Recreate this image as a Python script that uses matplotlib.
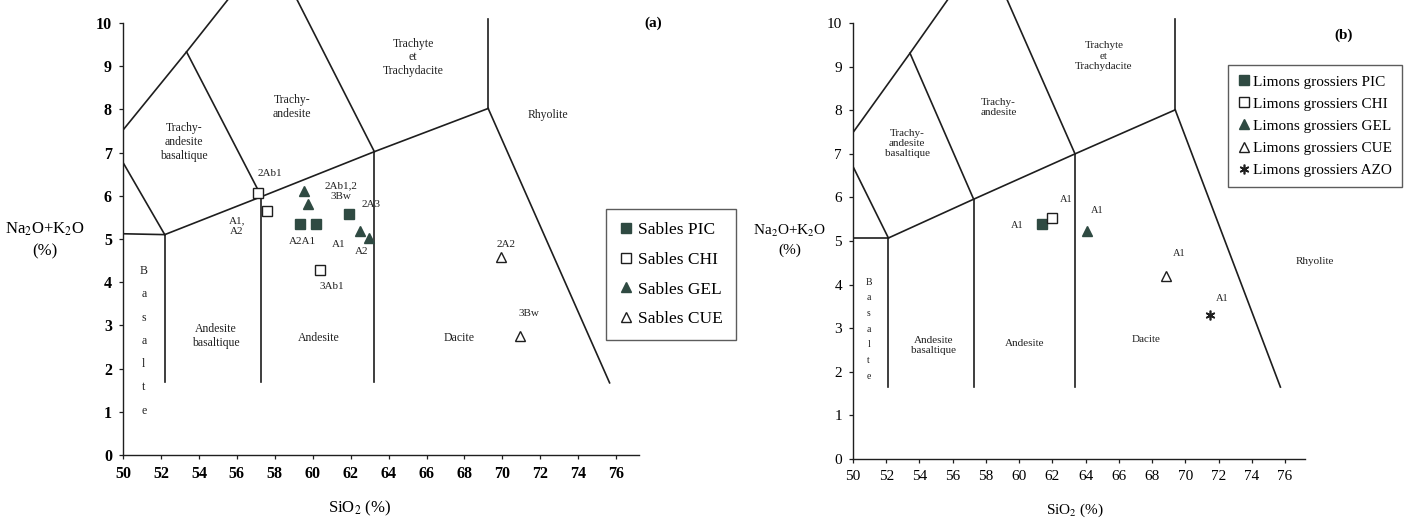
import matplotlib
matplotlib.use("Agg")
import matplotlib.pyplot as plt

plt.rcParams['font.family'] = 'serif'
plt.rcParams['font.serif'] = ['Liberation Serif', 'DejaVu Serif']
plt.rcParams['mathtext.fontset'] = 'stix'

LINE_COL = '#1e1e1e'
FILL_COL = '#2f4a42'

# ---- panel (a) data : sables ----
pic_a_x = [59.35, 60.15, 61.9]
pic_a_y = [5.35, 5.35, 5.58]
chi_a_x = [57.1, 57.6, 60.4]
chi_a_y = [6.06, 5.65, 4.28]
gel_a_x = [59.55, 59.75, 62.5, 62.95]
gel_a_y = [6.1, 5.82, 5.19, 5.02]
cue_a_x = [69.95, 70.95]
cue_a_y = [4.58, 2.75]

labels_a = ["2Ab1", "A1,\nA2", "3Ab1", "A2A1", "A1", "2Ab1,2\n3Bw", "2A3", "A2", "2A2", "3Bw"]
labels_a_x = [57.75, 56.0, 61.0, 59.45, 61.35, 61.5, 63.1, 62.6, 70.2, 71.4]
labels_a_y = [6.52, 5.3, 3.9, 4.93, 4.87, 6.1, 5.8, 4.72, 4.88, 3.28]

# ---- panel (b) data : limons grossiers ----
pic_b_x = [61.35]
pic_b_y = [5.39]
chi_b_x = [61.99]
chi_b_y = [5.54]
gel_b_x = [64.07]
gel_b_y = [5.24]
cue_b_x = [68.84]
cue_b_y = [4.2]
azo_b_x = [71.51]
azo_b_y = [3.31]

labels_b = ["A1", "A1", "A1", "A1", "A1"]
labels_b_x = [59.9, 62.8, 64.7, 69.6, 72.2]
labels_b_y = [5.35, 5.95, 5.7, 4.72, 3.69]

# ---- TAS field boundaries (SiO2, Na2O+K2O) ----
tas_a = [
    [(50, 7.52), (53.35, 9.33), (56.0, 10.8)],
    [(53.35, 9.33), (57.3, 5.98)],
    [(50, 6.77), (52.2, 5.1)],
    [(50, 5.12), (52.2, 5.1)],
    [(52.2, 5.1), (57.3, 5.98), (63.25, 7.02), (69.25, 8.02)],
    [(63.25, 7.02), (59.1, 10.6)],
    [(69.25, 8.02), (69.25, 10.1)],
    [(69.25, 8.02), (75.65, 1.67)],
    [(52.2, 1.7), (52.2, 5.1)],
    [(57.3, 1.7), (57.3, 5.98)],
    [(63.25, 1.7), (63.25, 7.02)],
]
tas_b = [
    [(50, 7.49), (53.43, 9.31), (56.0, 10.7)],
    [(53.43, 9.31), (57.26, 5.96)],
    [(50, 6.71), (52.13, 5.07)],
    [(50, 5.07), (52.13, 5.07)],
    [(52.13, 5.07), (57.26, 5.96), (63.36, 7.0), (69.39, 8.01)],
    [(63.36, 7.0), (59.2, 10.6)],
    [(69.39, 8.01), (69.39, 10.1)],
    [(69.39, 8.01), (75.72, 1.65)],
    [(52.13, 1.65), (52.13, 5.07)],
    [(57.26, 1.65), (57.26, 5.96)],
    [(63.36, 1.65), (63.36, 7.0)],
]

fields = ["Trachyte\net\nTrachydacite", "Trachy-\nandesite", "Trachy-\nandesite\nbasaltique",
          "Rhyolite", "Andesite\nbasaltique", "Andesite", "Dacite"]
fields_a_x = [65.3, 58.9, 53.2, 72.4, 54.9, 60.3, 67.7]
fields_a_y = [9.2, 8.05, 7.24, 7.87, 2.75, 2.7, 2.7]
fields_b_x = [65.1, 58.75, 53.26, 77.8, 54.85, 60.35, 67.66]
fields_b_y = [9.24, 8.07, 7.24, 4.52, 2.6, 2.66, 2.74]

W, H = 1413, 518
fig = plt.figure(figsize=(W / 100, H / 100), dpi=100)
fig.patch.set_facecolor('white')

ax_a = fig.add_axes([123 / W, (H - 455) / H, 516 / W, 455 / H])
ax_b = fig.add_axes([853 / W, (H - 459) / H, 452 / W, 459 / H])


def setup_axis(ax, tas, fsize):
    ax.set_xlim(50, 77.2)
    ax.set_ylim(0, 10.53)
    ax.spines['top'].set_visible(False)
    ax.spines['right'].set_visible(False)
    ax.spines['left'].set_bounds(0, 10)
    for s in ['left', 'bottom']:
        ax.spines[s].set_color(LINE_COL)
        ax.spines[s].set_linewidth(1.0)
    ax.set_xticks(range(50, 77, 2))
    ax.set_yticks(range(0, 11))
    ax.tick_params(direction='out', length=3, width=0.9, color=LINE_COL,
                   labelsize=fsize, pad=5)
    for seg in tas:
        xs = [p[0] for p in seg]
        ys = [p[1] for p in seg]
        ax.plot(xs, ys, color=LINE_COL, linewidth=1.2, zorder=1)
    ax.patch.set_alpha(0)


setup_axis(ax_a, tas_a, 11.5)
setup_axis(ax_b, tas_b, 11)
for lab in ax_a.get_xticklabels() + ax_a.get_yticklabels():
    lab.set_fontweight('bold')

# field names
for name, x, y in zip(fields, fields_a_x, fields_a_y):
    ax_a.text(x, y, name, ha='center', va='center', fontsize=8.5, linespacing=1.2, color='#222222')
for name, x, y in zip(fields, fields_b_x, fields_b_y):
    ax_b.text(x, y, name, ha='center', va='center', fontsize=8, linespacing=1.2, color='#222222')
ax_a.text(51.1, 2.64, "B\na\ns\na\nl\nt\ne", ha='center', va='center', fontsize=8.5,
          linespacing=2.25, color='#222222')
ax_b.text(50.95, 2.98, "B\na\ns\na\nl\nt\ne", ha='center', va='center', fontsize=7,
          linespacing=1.95, color='#222222')

# points (a)
mk = dict(linestyle='none', markersize=7.5, zorder=3)
ax_a.plot(pic_a_x, pic_a_y, marker='s', color=FILL_COL, mec=FILL_COL, label='Sables PIC', **mk)
ax_a.plot(chi_a_x, chi_a_y, marker='s', mfc='white', mec=LINE_COL, mew=1.0, label='Sables CHI', **mk)
ax_a.plot(gel_a_x, gel_a_y, marker='^', color=FILL_COL, mec=FILL_COL, label='Sables GEL', **mk)
ax_a.plot(cue_a_x, cue_a_y, marker='^', mfc='white', mec=LINE_COL, mew=1.0, label='Sables CUE', **mk)
for t, x, y in zip(labels_a, labels_a_x, labels_a_y):
    ax_a.text(x, y, t, ha='center', va='center', fontsize=8, linespacing=1.3, color='#222222')

# points (b)
mk_b = dict(linestyle='none', markersize=7, zorder=3)
ax_b.plot(pic_b_x, pic_b_y, marker='s', color=FILL_COL, mec=FILL_COL, label='Limons grossiers PIC', **mk_b)
ax_b.plot(chi_b_x, chi_b_y, marker='s', mfc='white', mec=LINE_COL, mew=1.0, label='Limons grossiers CHI', **mk_b)
ax_b.plot(gel_b_x, gel_b_y, marker='^', color=FILL_COL, mec=FILL_COL, label='Limons grossiers GEL', **mk_b)
ax_b.plot(cue_b_x, cue_b_y, marker='^', mfc='white', mec=LINE_COL, mew=1.0, label='Limons grossiers CUE', **mk_b)
ax_b.plot(azo_b_x, azo_b_y, marker=(6, 2, 0), color=LINE_COL, mew=1.2, label='Limons grossiers AZO', **mk_b)
for t, x, y in zip(labels_b, labels_b_x, labels_b_y):
    ax_b.text(x, y, t, ha='center', va='center', fontsize=7.5, color='#222222')

# axis titles
fig.text(360 / W, 1 - 508 / H, "SiO$_2$ (%)", ha='center', va='center', fontsize=12)
fig.text(45 / W, 1 - 240 / H, "Na$_2$O+K$_2$O\n(%)", ha='center', va='center',
         fontsize=12, linespacing=1.45)
fig.text(1075 / W, 1 - 510 / H, "SiO$_2$ (%)", ha='center', va='center', fontsize=11)
fig.text(790 / W, 1 - 240 / H, "Na$_2$O+K$_2$O\n(%)", ha='center', va='center',
         fontsize=11, linespacing=1.45)

ax_a.text(77.95, 10.0, "(a)", ha='center', va='center', fontsize=11, fontweight='bold')
ax_b.text(79.55, 9.73, "(b)", ha='center', va='center', fontsize=11, fontweight='bold')

# legends
leg_a = fig.legend(handles=ax_a.get_lines()[len(tas_a):], loc='upper left',
                   bbox_to_anchor=(606 / W, 1 - 209 / H), fontsize=12.5, frameon=True,
                   fancybox=False, edgecolor='#333333', handlelength=0.8, handletextpad=0.3,
                   labelspacing=0.78, borderpad=0.75, borderaxespad=0)
leg_a.get_frame().set_linewidth(1.0)
leg_b = fig.legend(handles=ax_b.get_lines()[len(tas_b):], loc='upper left',
                   bbox_to_anchor=(1228 / W, 1 - 65 / H), fontsize=11, frameon=True,
                   fancybox=False, edgecolor='#333333', handlelength=0.8, handletextpad=0.2,
                   labelspacing=0.55, borderpad=0.65, borderaxespad=0)
leg_b.get_frame().set_linewidth(1.0)

fig.savefig("out.png", dpi=100, facecolor='white')
